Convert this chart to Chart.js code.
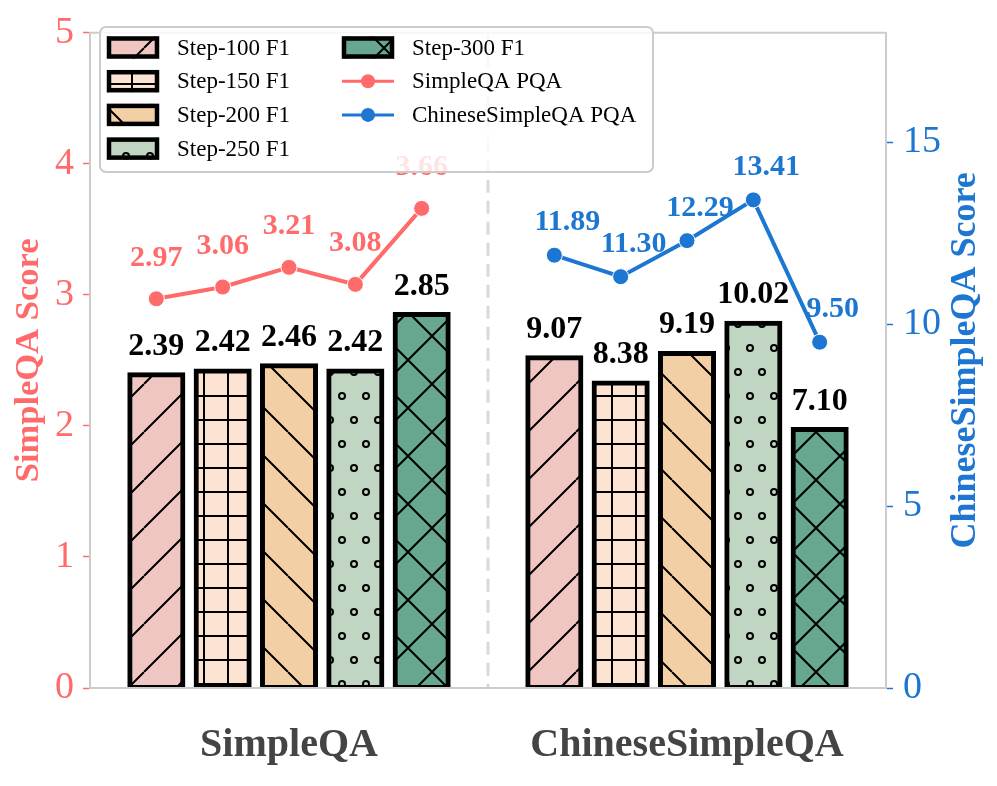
<!DOCTYPE html>
<html>
<head>
<meta charset="utf-8">
<script src="https://cdn.jsdelivr.net/npm/chart.js@4.4.1/dist/chart.umd.min.js"></script>
<style>
  html, body { margin: 0; padding: 0; background: #fff; }
  canvas { display: block; }
</style>
</head>
<body>
<canvas id="chart" width="997" height="786"></canvas>
<script>
// data
const groups = ['SimpleQA', 'ChineseSimpleQA'];
const steps = ['Step-100 F1', 'Step-150 F1', 'Step-200 F1', 'Step-250 F1', 'Step-300 F1'];
const simpleF1 = [2.39, 2.42, 2.46, 2.42, 2.85];
const chineseF1 = [9.07, 8.38, 9.19, 10.02, 7.10];
const simplePQA = [2.97, 3.06, 3.21, 3.08, 3.66];
const chinesePQA = [11.89, 11.30, 12.29, 13.41, 9.50];
const leftTicks = [0, 1, 2, 3, 4, 5];
const rightTicks = [0, 5, 10, 15];

const RED = '#ff6b6b';
const BLUE = '#1c76d2';
const SPINE = '#cccccc';
const FONT = "'Liberation Serif', 'DejaVu Serif', serif";
const stepColors = ['#f0c6c3', '#fde3d2', '#f3cfa6', '#c0d5c2', '#67a78f'];
const stepHatch = ['/', '+', '\\', 'o', 'x'];

// 13 slots: empty, 5 bars, divider, 5 bars, empty
const SLOTS = 13;
const labels = Array(SLOTS).fill('');
groups.forEach((g, k) => { labels[3 + k * 6] = g; });

function place(values, group) {
    const arr = Array(SLOTS).fill(null);
    values.forEach((v, i) => { arr[1 + group * 6 + i] = v; });
    return arr;
}

function makePattern(bg, kind) {
    const c = document.createElement('canvas');
    const s = (kind === '+' || kind === 'o') ? 24 : 48;
    c.width = s;
    c.height = kind === 'o' ? 48 : s;
    const g = c.getContext('2d');
    g.fillStyle = bg;
    g.fillRect(0, 0, c.width, c.height);
    g.strokeStyle = '#000';
    g.lineWidth = 2;
    g.beginPath();
    if (kind === '/' || kind === 'x') {
        for (let k = -1; k <= 1; k++) { g.moveTo(k * s, s); g.lineTo(k * s + s, 0); }
    }
    if (kind === '\\' || kind === 'x') {
        for (let k = -1; k <= 1; k++) { g.moveTo(k * s, 0); g.lineTo(k * s + s, s); }
    }
    if (kind === '+') {
        g.moveTo(12, 0); g.lineTo(12, 24);
        g.moveTo(0, 12); g.lineTo(24, 12);
    }
    g.stroke();
    if (kind === 'o') {
        [[6, 12], [18, 36]].forEach(([x, y]) => {
            g.beginPath();
            g.arc(x, y, 3, 0, Math.PI * 2);
            g.stroke();
        });
    }
    return g.createPattern(c, 'repeat');
}

const patterns = stepColors.map((c, i) => makePattern(c, stepHatch[i]));

// edge centred on the bar outline, like the original
const barStyle = {
    type: 'bar',
    borderColor: '#000',
    borderWidth: 5,
    borderSkipped: false,
    inflateAmount: 2.5,
    categoryPercentage: 1,
    barPercentage: 0.8,
    grouped: false,
    order: 2
};
const lineStyle = {
    type: 'line',
    borderWidth: 4,
    tension: 0,
    pointRadius: 8,
    pointBorderColor: '#fff',
    pointBorderWidth: 1,
    order: 1
};

const legendItems = [
    ...steps.map((s, i) => ({ text: s, fill: patterns[i] })),
    { text: 'SimpleQA PQA', color: RED },
    { text: 'ChineseSimpleQA PQA', color: BLUE }
];

const decor = {
    id: 'decor',
    beforeDatasetsDraw(chart) {
        const { ctx, chartArea } = chart;
        const xDiv = chart.scales.x.getPixelForValue(6);
        ctx.save();
        ctx.strokeStyle = '#d9d9d9';
        ctx.lineWidth = 3;
        ctx.setLineDash([13, 8]);
        ctx.beginPath();
        ctx.moveTo(xDiv, chartArea.top);
        ctx.lineTo(xDiv, chartArea.bottom);
        ctx.stroke();
        ctx.setLineDash([]);
        // top spine
        ctx.strokeStyle = SPINE;
        ctx.lineWidth = 2;
        ctx.beginPath();
        ctx.moveTo(chartArea.left, chartArea.top);
        ctx.lineTo(chartArea.right, chartArea.top);
        ctx.stroke();
        ctx.restore();
    },
    afterDatasetsDraw(chart) {
        const { ctx, chartArea } = chart;
        ctx.save();
        // bottom spine sits above the bars
        ctx.fillStyle = '#fff';
        ctx.fillRect(chartArea.left + 1, chartArea.bottom, chartArea.right - chartArea.left - 2, 4);
        ctx.strokeStyle = SPINE;
        ctx.lineWidth = 2;
        ctx.beginPath();
        ctx.moveTo(chartArea.left, chartArea.bottom);
        ctx.lineTo(chartArea.right, chartArea.bottom);
        ctx.stroke();

        ctx.textAlign = 'center';
        ctx.textBaseline = 'alphabetic';
        chart.data.datasets.forEach((ds, i) => {
            const meta = chart.getDatasetMeta(i);
            meta.data.forEach((el, j) => {
                const v = ds.data[j];
                if (v === null) return;
                if (ds.type === 'bar') {
                    ctx.fillStyle = '#000';
                    ctx.font = `bold 32px ${FONT}`;
                    ctx.fillText(v.toFixed(2), el.x, el.y - 20);
                } else if (ds.yAxisID === 'y') {
                    ctx.fillStyle = RED;
                    ctx.font = `bold 30px ${FONT}`;
                    ctx.fillText(v.toFixed(2), el.x, el.y - 33);
                } else {
                    ctx.fillStyle = BLUE;
                    ctx.font = `bold 30px ${FONT}`;
                    ctx.fillText(v.toFixed(2), el.x + 13, el.y - 25);
                }
            });
        });
        ctx.restore();
    },
    afterDraw(chart) {
        const { ctx, chartArea } = chart;
        ctx.save();
        // right axis title, reading bottom to top
        ctx.translate(966, (chartArea.top + chartArea.bottom) / 2);
        ctx.rotate(-Math.PI / 2);
        ctx.fillStyle = BLUE;
        ctx.font = `bold 36px ${FONT}`;
        ctx.textAlign = 'center';
        ctx.textBaseline = 'middle';
        ctx.fillText('ChineseSimpleQA Score', 0, 0);
        ctx.restore();

        // legend
        ctx.save();
        const bx = 100, by = 27, bw = 553, bh = 145;
        ctx.beginPath();
        ctx.roundRect(bx, by, bw, bh, 6);
        ctx.fillStyle = 'rgba(255,255,255,0.82)';
        ctx.fill();
        ctx.strokeStyle = SPINE;
        ctx.lineWidth = 2;
        ctx.stroke();
        ctx.font = `23px ${FONT}`;
        ctx.textBaseline = 'middle';
        ctx.textAlign = 'left';
        legendItems.forEach((item, idx) => {
            const col = idx < 4 ? 0 : 1;
            const row = idx < 4 ? idx : idx - 4;
            const y = 47.5 + row * 33.7;
            const hx = 107 + col * 235;
            if (item.fill) {
                ctx.fillStyle = item.fill;
                ctx.fillRect(hx, y - 11, 52, 22);
                ctx.strokeStyle = '#000';
                ctx.lineWidth = 4.5;
                ctx.strokeRect(hx + 2, y - 9, 48, 18);
            } else {
                ctx.strokeStyle = item.color;
                ctx.lineWidth = 3;
                ctx.beginPath();
                ctx.moveTo(hx, y);
                ctx.lineTo(hx + 52, y);
                ctx.stroke();
                ctx.fillStyle = item.color;
                ctx.beginPath();
                ctx.arc(hx + 26, y, 7, 0, Math.PI * 2);
                ctx.fill();
            }
            ctx.fillStyle = '#000';
            ctx.fillText(item.text, 177 + col * 235, y + 1);
        });
        ctx.restore();
    }
};

new Chart(document.getElementById('chart').getContext('2d'), {
    data: {
        labels: labels,
        datasets: [
            { ...barStyle, label: 'SimpleQA F1', data: place(simpleF1, 0), backgroundColor: place(patterns, 0), yAxisID: 'y' },
            { ...barStyle, label: 'ChineseSimpleQA F1', data: place(chineseF1, 1), backgroundColor: place(patterns, 1), yAxisID: 'y1' },
            { ...lineStyle, label: 'SimpleQA PQA', data: place(simplePQA, 0), borderColor: RED, pointBackgroundColor: RED, yAxisID: 'y' },
            { ...lineStyle, label: 'ChineseSimpleQA PQA', data: place(chinesePQA, 1), borderColor: BLUE, pointBackgroundColor: BLUE, yAxisID: 'y1' }
        ]
    },
    options: {
        responsive: false,
        animation: false,
        layout: { padding: { top: 29, left: 0, right: 0, bottom: 0 } },
        plugins: { legend: { display: false }, tooltip: { enabled: false } },
        scales: {
            x: {
                type: 'category',
                offset: false,
                grid: { display: true, drawOnChartArea: false, drawTicks: false },
                border: { display: true, color: SPINE, width: 2 },
                ticks: {
                    autoSkip: false, maxRotation: 0, minRotation: 0,
                    color: '#444', padding: 34,
                    font: { family: FONT, size: 40, weight: 'bold' }
                },
                afterFit: s => { s.height = 98; }
            },
            y: {
                position: 'left',
                min: 0, max: 5,
                afterBuildTicks: s => { s.ticks = leftTicks.map(v => ({ value: v })); },
                grid: { drawOnChartArea: false, drawTicks: true, tickLength: 7, tickColor: RED, tickWidth: 1.5 },
                border: { display: true, color: SPINE, width: 2 },
                ticks: { color: RED, padding: 9, font: { family: FONT, size: 38 } },
                title: {
                    display: true, text: 'SimpleQA Score', color: RED,
                    font: { family: FONT, size: 34.5, weight: 'bold' },
                    padding: { top: 8, bottom: 0 }
                },
                afterFit: s => { s.width = 90; }
            },
            y1: {
                position: 'right',
                min: 0, max: 18,
                afterBuildTicks: s => { s.ticks = rightTicks.map(v => ({ value: v })); },
                grid: { drawOnChartArea: false, drawTicks: true, tickLength: 7, tickColor: BLUE, tickWidth: 1.5 },
                border: { display: true, color: SPINE, width: 2 },
                ticks: { color: BLUE, padding: 10, font: { family: FONT, size: 38 } },
                afterFit: s => { s.width = 111; }
            }
        }
    },
    plugins: [decor]
});
</script>
</body>
</html>
